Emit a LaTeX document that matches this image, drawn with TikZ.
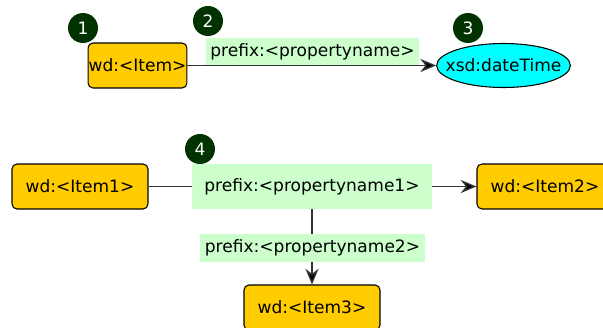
\documentclass[tikz,border=0pt]{standalone}
\usepackage{fontspec}
\setmainfont{DejaVu Sans}
\usetikzlibrary{arrows.meta,shapes.geometric}
\definecolor{itemfill}{RGB}{255,204,0}
\definecolor{litfill}{RGB}{0,255,255}
\definecolor{propfill}{RGB}{204,255,204}
\definecolor{badgefill}{RGB}{0,51,0}

\begin{document}
\begin{tikzpicture}[x=0.02cm, y=-0.02cm, font=\fontsize{9.7}{11}\selectfont,
    item/.style={draw=black, line width=0.6pt, fill=itemfill, rounded corners=2.8pt,
      minimum height=0.9cm, inner sep=0.3pt},
    prop/.style={fill=propfill, inner sep=0pt, minimum height=0.56cm},
    badge/.style={circle, fill=badgefill, text=white, minimum size=0.6cm, inner sep=0pt},
    link/.style={line width=0.75pt, draw=black!80},
    tip/.style={link, -{Stealth[length=9pt,width=7.5pt,inset=3pt,fill=black]}}]
  \useasboundingbox (0,0) rectangle (603,328);
  \clip (0,0) rectangle (603,328);
  % item with a literal value
  \node[item] (item) at (137.5,65.5) {wd:<Item>};
  \node[ellipse, draw=black, line width=0.6pt, fill=litfill, minimum width=2.62cm,
    minimum height=0.88cm, inner xsep=-6pt, inner ysep=0pt] (date) at (503.5,65.5) {xsd:dateTime};
  \node[prop, minimum width=4.26cm] (pname) at (312.5,52) {prefix:<propertyname>};
  \draw[tip] (item.east) -- (date.west);
  % item linked to other items
  \node[item, minimum width=2.72cm] (item1) at (80,186.5) {wd:<Item1>};
  \node[prop, minimum width=4.8cm, minimum height=0.9cm] (pname1) at (312,186.5) {prefix:<propertyname1>};
  \node[item, minimum width=2.72cm] (item2) at (545,186.5) {wd:<Item2>};
  \node[item, minimum width=2.72cm] (item3) at (312,307.5) {wd:<Item3>};
  \draw[link] (item1) -- (pname1);
  \draw[tip] (pname1) -- (item2);
  \draw[tip] (pname1) -- (item3);
  \node[prop, minimum width=4.5cm] (pname2) at (312.5,248) {prefix:<propertyname2>};
  % numbered markers
  \foreach \n/\x/\y in {1/83/28, 2/208/21, 3/468/28, 4/200/149}{
    \node[badge] (mark\n) at (\x,\y) {\n};
  }
\end{tikzpicture}
\end{document}
